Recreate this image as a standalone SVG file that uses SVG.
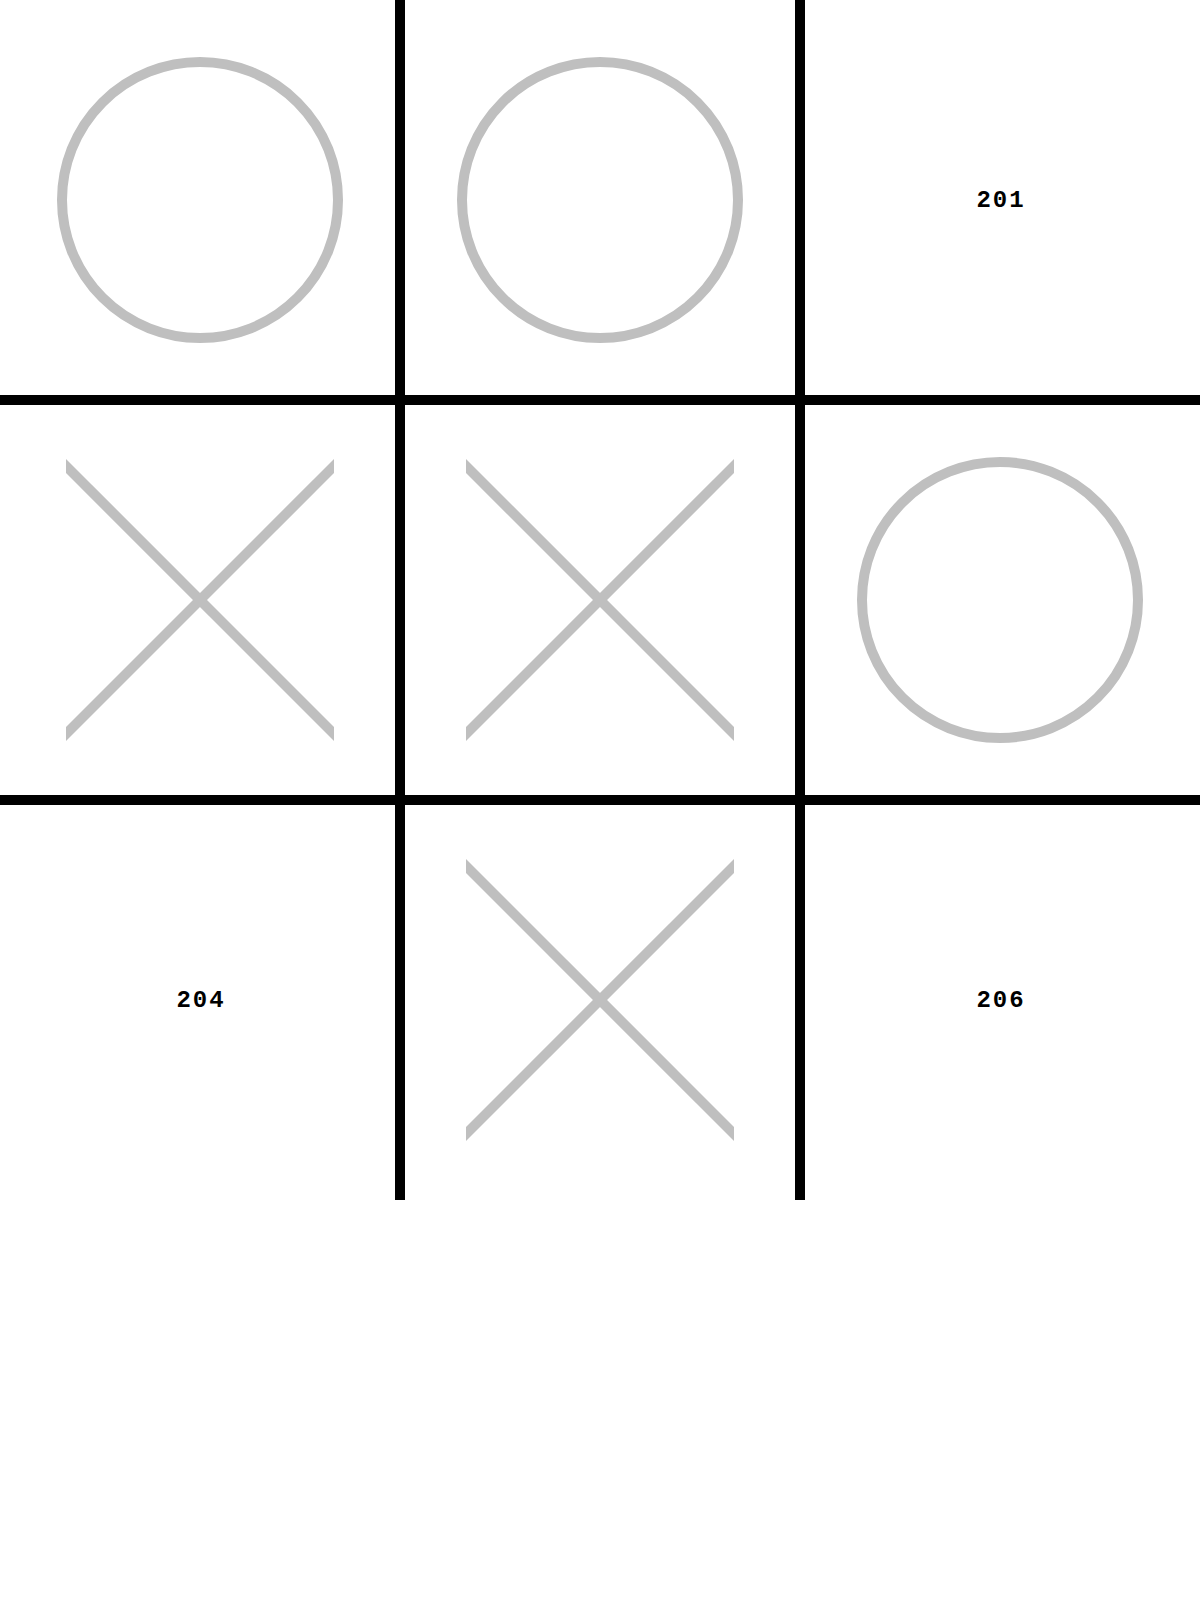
<svg xmlns="http://www.w3.org/2000/svg" width="1200" height="1600" viewBox="0 0 1200 1600">
<style>
.grid{stroke:#000;stroke-width:10}
.o{fill:none;stroke:#bfbfbf;stroke-width:10}
.x line{stroke:#bfbfbf;stroke-width:10}
.lbl{font-family:"Liberation Mono","Courier New",monospace;font-size:24px;font-weight:bold;fill:#000;text-anchor:middle;dominant-baseline:central;letter-spacing:2px}
</style>
<defs>
<clipPath id="xc"><rect x="-134" y="-200" width="268" height="400"/></clipPath>
<g id="xmark" class="x" clip-path="url(#xc)">
<line x1="-150" y1="-150" x2="150" y2="150"/>
<line x1="-150" y1="150" x2="150" y2="-150"/>
</g>
</defs>
<rect width="1200" height="1600" fill="#fff"/>
<g id="cell0"><circle class="o" cx="200" cy="200" r="138"/></g>
<g id="cell1"><circle class="o" cx="600" cy="200" r="138"/></g>
<g id="cell2"><text class="lbl" x="1001" y="200">201</text></g>
<g id="cell3"><use href="#xmark" x="200" y="600"/></g>
<g id="cell4"><use href="#xmark" x="600" y="600"/></g>
<g id="cell5"><circle class="o" cx="1000" cy="600" r="138"/></g>
<g id="cell6"><text class="lbl" x="201" y="1000">204</text></g>
<g id="cell7"><use href="#xmark" x="600" y="1000"/></g>
<g id="cell8"><text class="lbl" x="1001" y="1000">206</text></g>
<g id="connectors">
<line class="grid" x1="400" y1="0" x2="400" y2="1200"/>
<line class="grid" x1="800" y1="0" x2="800" y2="1200"/>
<line class="grid" x1="0" y1="400" x2="1200" y2="400"/>
<line class="grid" x1="0" y1="800" x2="1200" y2="800"/>
</g>
</svg>
